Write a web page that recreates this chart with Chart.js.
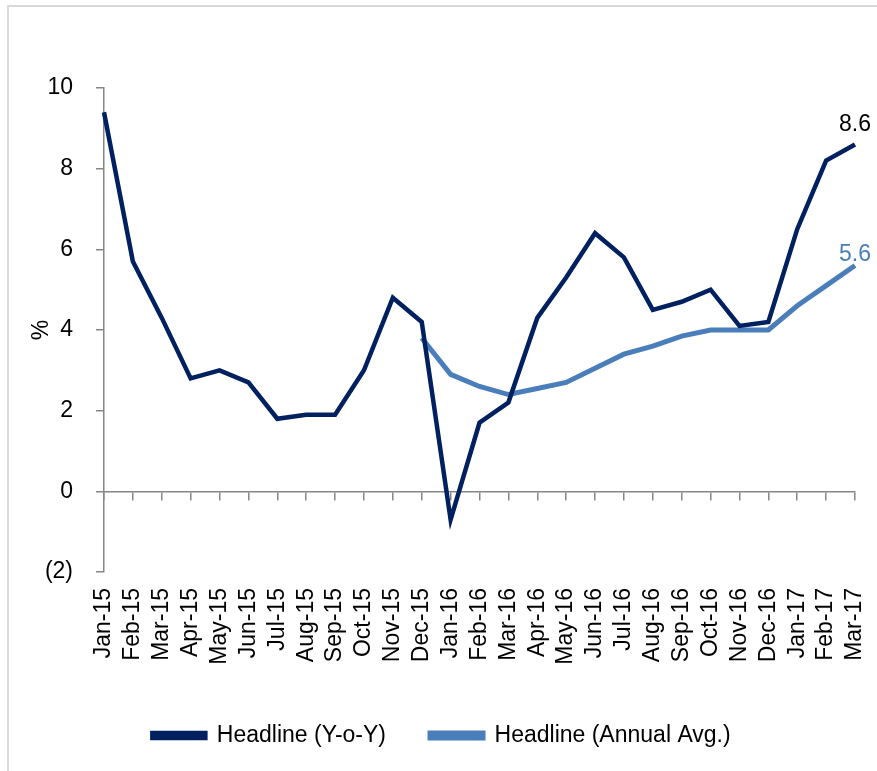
<!DOCTYPE html>
<html>
<head>
<meta charset="utf-8">
<script src="https://cdn.jsdelivr.net/npm/chart.js@4"></script>
<style>
  html, body { margin: 0; padding: 0; background: #fff; }
  #wrap { position: relative; width: 877px; height: 771px; }
  #frame { position: absolute; left: 7px; top: 5px; right: 0; bottom: 0;
           border-top: 2px solid #d9d9d9; border-left: 2px solid #d9d9d9; pointer-events: none; }
</style>
</head>
<body>
<div id="wrap">
  <canvas id="inflationChart" width="877" height="771"></canvas>
  <div id="frame"></div>
</div>
<script>
// months, Jan-15 .. Mar-17
var months = ['Jan-15', 'Feb-15', 'Mar-15', 'Apr-15', 'May-15', 'Jun-15', 'Jul-15', 'Aug-15',
  'Sep-15', 'Oct-15', 'Nov-15', 'Dec-15', 'Jan-16', 'Feb-16', 'Mar-16', 'Apr-16', 'May-16',
  'Jun-16', 'Jul-16', 'Aug-16', 'Sep-16', 'Oct-16', 'Nov-16', 'Dec-16', 'Jan-17', 'Feb-17', 'Mar-17'];

var headlineYoY = [9.4, 5.7, 4.3, 2.8, 3.0, 2.7, 1.8, 1.9, 1.9, 3.0, 4.8, 4.2, -0.7, 1.7,
  2.2, 4.3, 5.3, 6.4, 5.8, 4.5, 4.7, 5.0, 4.1, 4.2, 6.5, 8.2, 8.6];

// annual average only starts in Dec-15
var headlineAvg = [null, null, null, null, null, null, null, null, null, null, null, 3.8, 2.9, 2.6,
  2.4, 2.55, 2.7, 3.05, 3.4, 3.6, 3.85, 4.0, 4.0, 4.0, 4.6, 5.1, 5.6];

var yTicks = [-2, 0, 2, 4, 6, 8, 10];

var navy = '#002060';
var lightBlue = '#4a7ebb';
var axisGrey = '#868686';
var font = "'Liberation Sans', Arial, sans-serif";
var legendPad = 44;

// label the last point of each series
var lastValueLabels = {
  id: 'lastValueLabels',
  afterDatasetsDraw(chart) {
    var ctx = chart.ctx;
    var colours = ['#000000', lightBlue];
    ctx.save();
    ctx.font = '23px ' + font;
    ctx.textAlign = 'center';
    ctx.textBaseline = 'middle';
    chart.data.datasets.forEach((ds, i) => {
      var pts = chart.getDatasetMeta(i).data;
      var pt = pts[pts.length - 1];
      var val = ds.data[ds.data.length - 1];
      ctx.fillStyle = colours[i];
      ctx.fillText(val.toFixed(1), pt.x, pt.y - (i === 0 ? 20 : 11));
    });
    ctx.restore();
  }
};

new Chart('inflationChart', {
  type: 'line',
  data: {
    labels: months,
    datasets: [{
      label: 'Headline (Y-o-Y)',
      data: headlineYoY,
      borderColor: navy,
      backgroundColor: navy,
      borderWidth: 4.5,
      pointRadius: 0,
      tension: 0
    }, {
      label: 'Headline (Annual Avg.)',
      data: headlineAvg,
      borderColor: lightBlue,
      backgroundColor: lightBlue,
      borderWidth: 5,
      pointRadius: 0,
      tension: 0
    }]
  },
  options: {
    responsive: false,
    animation: false,
    layout: { padding: { left: 28, right: 22, top: 88, bottom: 14 } },
    plugins: {
      tooltip: { enabled: false },
      legend: {
        position: 'bottom',
        labels: {
          boxWidth: 53,
          boxHeight: 5,
          padding: legendPad,
          color: '#000',
          font: { family: font, size: 23 }
        }
      }
    },
    scales: {
      x: {
        position: 'bottom',
        grid: { display: false },
        border: { display: false },
        ticks: {
          autoSkip: false,
          minRotation: 90,
          maxRotation: 90,
          padding: 8,
          color: '#000',
          font: { family: font, size: 23 }
        },
        afterFit(scale) {
          scale.height = 152 - legendPad;
          scale.paddingRight = 0;
          scale.paddingLeft = 0;
        }
      },
      // zero line with its tick marks
      x2: {
        type: 'category',
        position: { y: 0 },
        grid: { drawOnChartArea: false, tickLength: 8, color: axisGrey, lineWidth: 1.5 },
        border: { color: axisGrey, width: 1.5 },
        ticks: { display: false }
      },
      y: {
        min: -2,
        max: 10,
        afterBuildTicks(scale) { scale.ticks = yTicks.map(v => ({ value: v })); },
        grid: { drawOnChartArea: false, tickLength: 8, color: axisGrey, lineWidth: 1.5 },
        border: { color: axisGrey, width: 1.5 },
        ticks: {
          padding: 23,
          color: '#000',
          font: { family: font, size: 23 },
          callback: v => v < 0 ? '(' + (-v) + ')' : String(v)
        },
        title: {
          display: true,
          text: '%',
          color: '#000',
          font: { family: font, size: 23 },
          padding: { top: 0, bottom: 0 }
        },
        afterFit(scale) { scale.width = 76; }
      }
    }
  },
  plugins: [lastValueLabels]
});
</script>
</body>
</html>
